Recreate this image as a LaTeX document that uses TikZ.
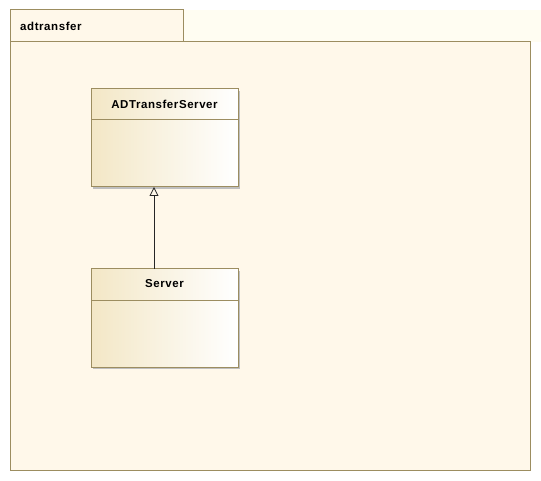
\documentclass[tikz,border=0pt]{standalone}
\usepackage{fontspec}
\setmainfont{Liberation Sans}
\newfontfamily\titlefont[LetterSpace=5]{Liberation Sans}
\usetikzlibrary{arrows.meta}
\definecolor{pkgfill}{HTML}{FFF8EA}
\definecolor{pkgline}{HTML}{9C8D60}
\definecolor{bgtop}{HTML}{FFFDF2}
\definecolor{clsleft}{HTML}{F3E7C6}
\tikzset{
  pkg/.style={draw=pkgline, fill=pkgfill, line width=1pt},
  classbox/.style={draw=pkgline, line width=1pt, left color=clsleft, right color=white,
    minimum width=147pt, minimum height=98pt, inner sep=0pt, outer sep=0pt, anchor=north west},
  shadowbox/.style={fill=black!25, draw=none},
  title/.style={font=\titlefont\fontsize{11.5}{13}\selectfont\bfseries, inner sep=0pt},
  divider/.style={draw=pkgline, line width=1pt},
  gen/.style={draw=black!85, line width=0.8pt, -{Triangle[open,length=9pt,width=9pt,line width=0.8pt]}}
}
\begin{document}
\begin{tikzpicture}[x=1pt,y=-1pt]
\useasboundingbox (0,0) rectangle (541,481);
\fill[white] (0,0) rectangle (541,481);
\fill[bgtop] (183,10) rectangle (541,42);
% package
\draw[pkg] (10,10) rectangle (183,42);
\draw[pkg] (10,42) rectangle (530,470);
\node[title, anchor=west] (pkgname) at (20,26) {adtransfer};
% shadows
\fill[shadowbox] (93,91) rectangle (240,189);
\fill[shadowbox] (93,271) rectangle (240,369);
% classes
\node[classbox] (ads) at (91,89) {};
\node[classbox] (srv) at (91,269) {};
\draw[divider] (91,120) -- (238,120);
\draw[divider] (91,300) -- (238,300);
\node[title] (adsname) at (164.5,104) {ADTransferServer};
\node[title] (srvname) at (164.5,284) {Server};
% generalization
\draw[gen] (srv.north -| 154,0) -- (ads.south -| 154,0);
\end{tikzpicture}
\end{document}
